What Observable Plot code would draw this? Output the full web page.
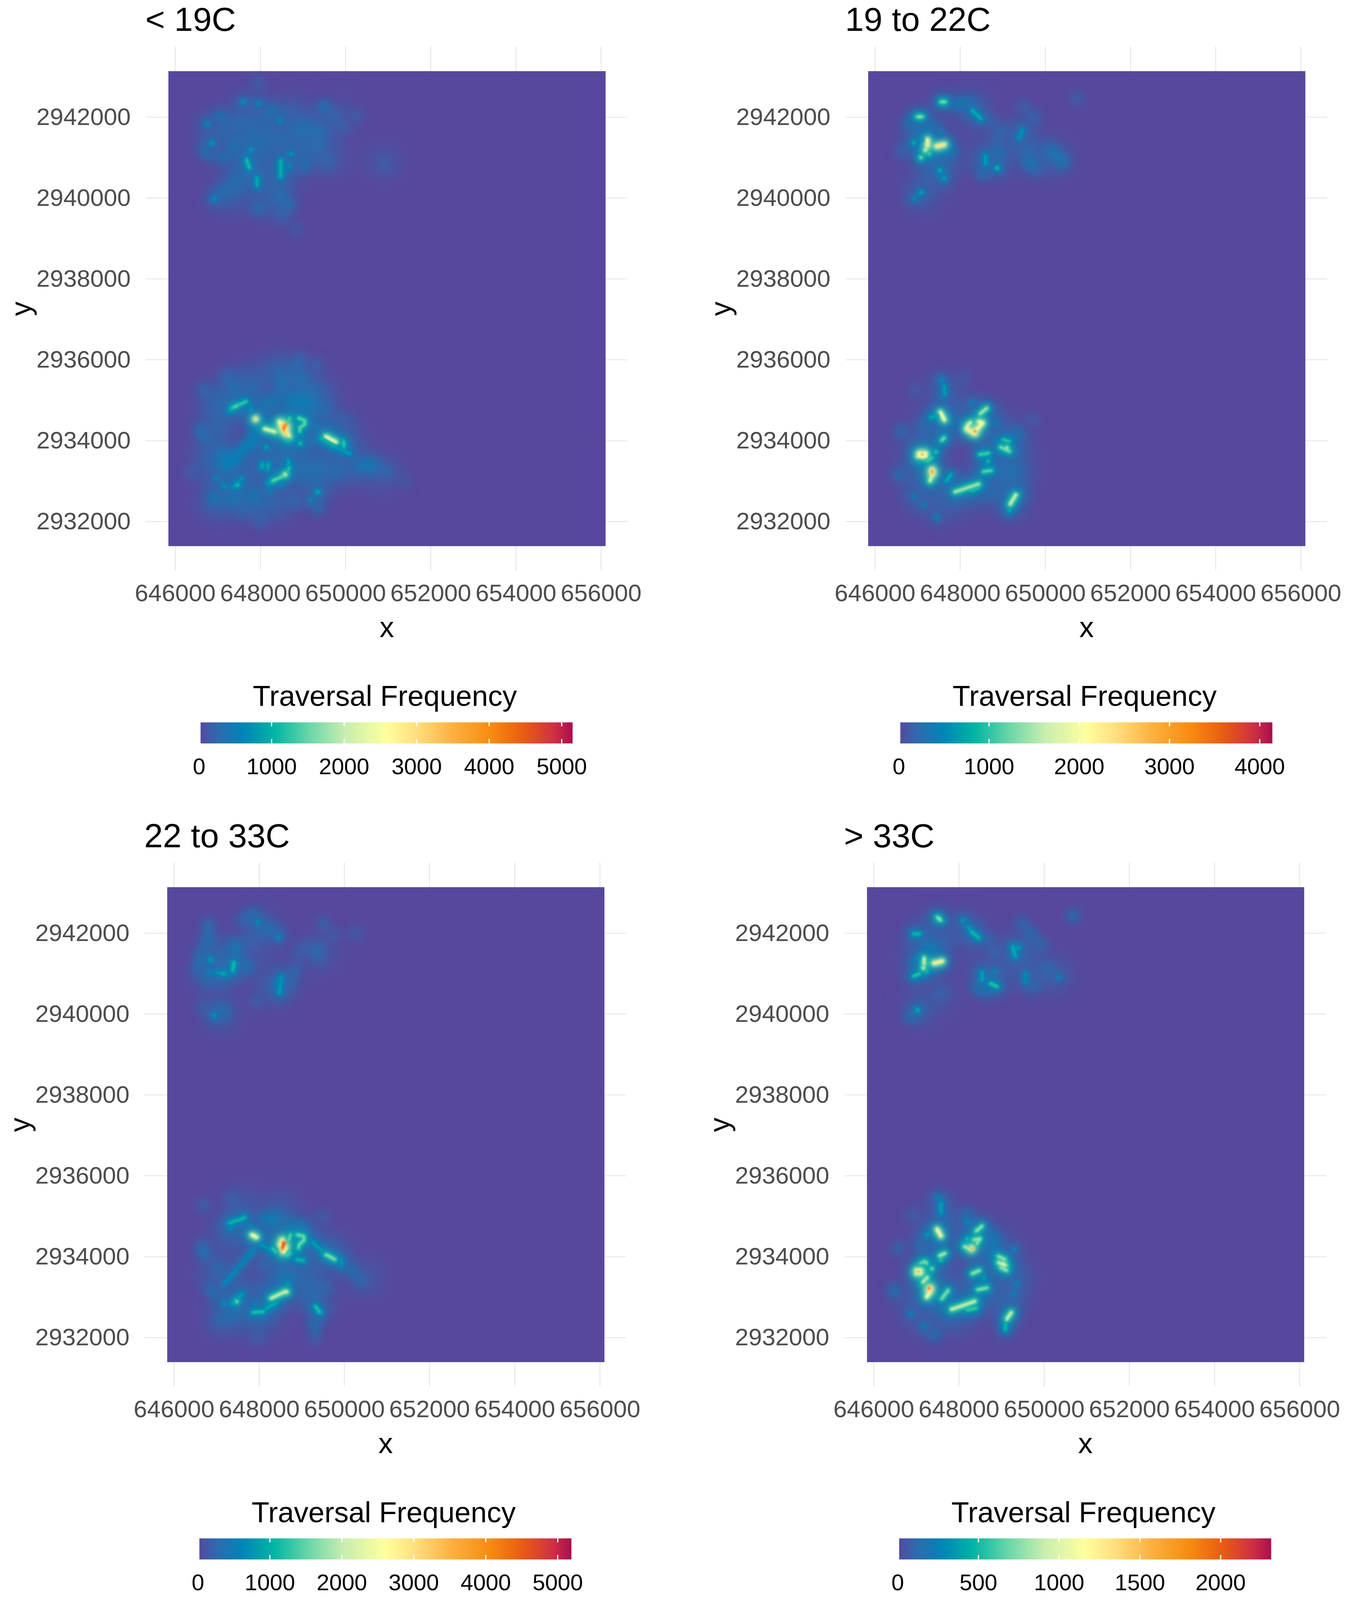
<!DOCTYPE html>
<html><head><meta charset="utf-8">
<script src="https://cdn.jsdelivr.net/npm/d3@7"></script>
<script src="https://cdn.jsdelivr.net/npm/@observablehq/plot@0.6"></script>
<style>
html,body{margin:0;padding:0;background:#fff;}
#page{position:relative;width:3445px;height:4096px;overflow:hidden;font-family:"Liberation Sans",Arial,sans-serif;}
.panel{position:absolute;width:1650px;}
.title{position:absolute;left:372px;top:0;font-size:86px;color:#000;white-space:nowrap;}
.ltitle{position:absolute;left:400px;width:1170px;text-align:center;font-size:74px;line-height:80px;color:#000;white-space:nowrap;}
.main,.bar{position:absolute;}
.main{left:0;}.bar{left:400px;}
</style></head><body><div id="page"></div>
<script>
// Data: coordinates are metres relative to these origins
const xOrigin = 640000, yOrigin = 2930000;
const xTicks = [646000,648000,650000,652000,654000,656000];
const yTicks = [2932000,2934000,2936000,2938000,2940000,2942000];
const panelTitles = ["< 19C","19 to 22C","22 to 33C","> 33C"];
const legendMax = [5150,4140,5190,2313];
const legendTicks = [[0,1000,2000,3000,4000,5000],[0,1000,2000,3000,4000],[0,1000,2000,3000,4000,5000],[0,500,1000,1500,2000]];
const rampStops = [0,.05,.12,.2,.3,.39,.5,.58,.68,.78,.87,.95,1];
const rampColors = ["#57489d","#2f6bae","#0085b8","#00b4a4","#6fd8a8","#c8eeb0","#ffff9e","#ffe080","#fdb040","#f88c10","#e85c14","#cf3044","#a80f4e"];

// Trails: [x1,y1,x2,y2,frequency] or spots [x,y,frequency]
const trailsBelow19 = [
[8448,4468,8673,4103,2700],[8500,4400,8612,4150,3200],[8571,4408,8550,4255,3900],[8550,4316,4500],[8612,4377,4100],
[7886,4535,2500],[7886,4535,3300],[8100,4291,8345,4224,2300],
[8898,4560,9042,4499,1500],[9042,4499,9042,4407,1500],[9042,4407,8919,4316,1500],[8919,4316,8927,4224,1400],
[8693,4560,8611,4407,1400],[8611,4133,8714,4072,1400],[8714,4072,8632,4011,1200],
[9533,4103,9779,3965,2400],[9951,3981,9963,3859,1300],[9410,4070,9700,3890,1000],[9656,3889,10106,3676,850],
[8939,3935,1300],[7322,4803,7669,4971,1300],[7425,4850,1600],[7280,4727,900],[8140,3843,1000],
[8038,3430,8038,3340,1000],[8181,3430,8181,3310,1000],
[8652,3524,8673,3341,900],[8673,3341,8612,3158,1200],[8612,3158,8284,3006,1500],[8580,3170,2300],[8284,3006,1300],[8284,3006,8181,2945,900],
[7465,2899,1300],[7567,3067,7362,2852,800],[7149,2884,900],[9349,2731,1100],[9186,2518,700],[9349,2335,500],
[7895,4103,7116,3280,600],[7895,4377,7895,3889,600],[7076,3676,500],[6973,3067,700],
[6912,2610,500],[7362,2610,500],[7915,2670,500],[8222,2762,700],[8509,2945,700],
[10352,3402,10639,3402,500],[10967,3250,300],[6584,4255,400],[6707,4072,350],
[6666,5260,300],[7198,5596,300],[7362,5321,350],[7895,5352,300],[8509,5596,350],[8960,6053,250],[8837,5870,350],[9328,5870,250],[8966,5535,400],[8509,5352,450],[9246,5260,300],[9492,4834,300],
[8100,4925,500],[8345,5017,550],[8673,4986,9082,4925,550],[7772,4773,900],[9328,4316,700],[9165,4072,500],
[9000,3300,350],[9400,3400,350],[9800,3200,350],[8800,2500,350],[7600,2300,250],[8000,2000,250],[6400,3200,200],[10000,4500,200],[11400,3000,150],
[7677,10958,7738,10745,1150],[8476,10927,8476,10531,1050],[8721,11095,900],[8680,10775,800],[7923,10501,7923,10318,1000],
[7779,11202,900],[6858,11354,900],[6919,9983,800],[7062,10105,600],[7595,12375,800],[7955,12329,800],[8455,11917,800],[8271,12131,600],
[6755,11841,750],[7042,12009,500],[9479,12268,500],[9356,11659,350],[9356,11600,350],[9008,11719,400],[7411,11262,500],[7144,11003,500],[6817,11049,400],[6653,11202,400],[7902,11384,500],
[7943,9739,450],[8680,9830,400],[8480,10040,350],[7411,10348,350],[9029,10805,450],
[9377,11293,300],[9582,10897,250],[9745,12024,250],[10257,12055,200],[10933,10836,200],[8250,11598,300],[7943,12847,250],[8517,9556,250],[8844,9221,200],[9950,11750,200]
];
const hazeBelow19 = [[7000,5000,350],[7600,5400,350],[8400,5700,350],[9000,5400,300],[9400,5000,300],[8000,4700,400],[8900,4800,450],[7000,4300,300],[6800,3500,300],[7400,3400,350],[7300,2900,400],[7000,2500,350],[7800,2500,400],[8400,2500,300],[8200,3500,450],[9000,3300,400],[9300,3000,350],[9700,3400,300],[10300,3400,300],[10900,3200,200],[9900,4200,300],[9200,4300,450],[8600,3900,450],
[7000,11600,300],[7500,11900,300],[8000,12000,300],[7800,11200,400],[8500,11300,350],[8700,12000,300],[9300,11700,300],[9000,11100,300],[9600,11000,200],[7600,10600,400],[8400,10400,350],[8300,9900,250],[7300,10100,300],[10900,10900,150],[9800,12000,150]];
const trails19to22 = [
[7538,4697,7630,4514,2100],[7309,4575,800],[7309,4575,7480,4620,800],
[8150,4286,8348,4179,2300],[8348,4231,3400],[8180,4377,8241,4453,1800],[8440,4468,8532,4438,2200],[8532,4438,8394,4286,2100],[8180,4377,8150,4286,1900],
[8471,4666,8624,4804,1500],[7630,4072,7569,4011,1300],
[7018,3691,7202,3691,2000],[7018,3615,7202,3615,2100],[7110,3661,3200],[7431,3722,1100],[7339,3585,7232,3493,1100],[7049,3478,900],
[7339,3280,7354,3189,2600],[7345,3230,3300],[7354,3189,7293,3006,1800],
[7874,2732,8440,2930,1500],[8272,2762,8440,2850,950],[7676,3006,7783,3158,800],
[8455,3661,8669,3691,1100],[8654,3493,1000],[8547,3234,8731,3265,1200],[8624,3052,500],
[8945,3844,9159,3737,1300],[9006,4027,9159,3981,1000],[9100,3830,1600],
[9174,2427,9311,2671,1700],[9159,2275,900],[9342,2793,500],
[7553,5504,600],[7630,5352,7630,5139,700],[8272,4925,500],[8853,4438,500],[9342,4164,400],[8822,4042,500],
[6605,4225,350],[6559,3158,350],[6926,2625,500],[7140,2427,500],[7461,2107,500],
[8088,5565,150],[6926,5230,150],[8700,2701,300],[9709,4529,150],[9067,3219,300],[9311,3189,300],[7170,4380,300],[7720,4470,300],
[7599,12375,1400],[7540,12375,7660,12375,1200],[7049,12009,1500],[6980,12009,7120,12009,1200],[7232,11445,7232,11293,2300],[7447,11278,7630,11323,2400],[7187,11186,1900],[7278,11095,1200],
[7080,11003,1400],[6911,11369,900],[7125,11445,700],[6804,11841,400],[7278,11689,400],[7416,11765,400],[7523,11598,500],[7034,11537,400],
[7523,10683,900],[7615,10485,800],[7080,10135,800],[6927,9983,600],[7905,12329,8242,12329,450],[8287,12161,8486,11963,800],
[9465,11689,9373,11476,600],[8593,11049,8593,10836,700],[8869,10745,1000],[8869,11095,450],[8517,10623,400],
[9618,10882,450],[9771,10714,250],[9557,11202,280],[9740,11994,280],[9495,12268,200],[10749,12466,200],[10107,11202,10443,10866,350],
[8976,11674,250],[8853,11476,200],[8700,11902,200],[6621,11171,250],[7752,11186,450]
];
const haze19to22 = [[7300,4300,200],[8000,4600,200],[8700,4400,200],[9200,4000,250],[9300,3300,250],[8800,3200,200],[7000,3300,200],[7100,2700,200],[7700,2500,200],[8300,2800,250],[9200,2600,250],[7600,5200,150],[7100,3900,200],
[7100,11500,250],[7400,10700,200],[7100,10100,150],[8300,12200,180],[8700,11000,250],[9400,11500,220],[9700,11000,150],[10200,11000,180],[7600,11000,250]];
const trails22to33 = [
[8538,4404,8584,4115,2700],[8500,4300,8620,4200,2700],[8553,4359,8553,4176,3900],[8584,4343,8553,4221,4800],
[7887,4511,2800],[7824,4541,7942,4480,2500],
[8890,4541,9043,4511,1600],[9043,4511,9058,4420,1600],[9058,4420,8936,4298,1600],[8936,4298,8920,4206,1500],
[8737,4541,8676,4389,1500],[8645,4023,8721,4100,1400],[8309,4206,8400,4115,1300],[8033,4298,8339,4145,800],
[9562,4054,9776,3932,1700],[9257,4359,9562,4054,900],[9929,3932,9929,3780,800],[10143,3673,600],[8890,3932,9043,3902,1100],
[7300,4831,7666,4968,1100],[7330,4694,800],[7789,4755,700],[8339,5029,8339,4785,500],[8095,4938,550],[8706,4724,9012,4755,500],
[7880,4176,7177,3323,650],[7085,3719,400],[6719,4054,500],[6642,4267,350],
[8676,3323,1000],[8706,3475,600],[8615,3140,8278,2972,2100],[8645,3129,2400],
[8232,2774,1000],[8156,2713,8400,2866,1000],[7850,2622,8095,2637,1200],[7911,2835,700],
[7468,2896,1900],[7361,2835,7605,3079,900],[7162,2850,800],[6994,3079,500],[6841,3201,350],
[9318,2774,9425,2622,1200],[9318,2317,600],[9200,3100,300],[9550,3250,300],[10388,3384,350],[8550,3500,500],[7376,2591,450],[7085,2439,350],[8100,3800,300],
[7361,5425,250],[6688,5273,250],[7972,1982,200],[8600,5000,300],[9500,5000,200],[9300,2000,250],
[7407,11275,7376,11077,1150],[7162,11000,1100],[6994,11030,7238,10985,800],[6856,11336,1000],[6826,11031,700],[6810,10910,500],[6673,11457,450],[6673,11230,500],
[6764,11777,400],[6826,12006,400],[6795,12250,300],[7422,11732,7468,11518,500],[7728,11168,550],[7621,12356,350],[7865,12463,450],[7957,12280,800],
[8064,12158,8400,12036,450],[8462,11899,750],[7789,11823,250],[8523,10939,8477,10543,800],[8477,10543,1000],[8400,10772,700],[8828,11061,400],[8722,10741,350],
[9364,11640,300],[9364,11457,350],[9501,12250,250],[9761,11975,200],[10266,12006,220],[9012,11655,220],[8890,11430,180],[7942,10330,220],
[6948,9964,900],[7177,10010,500],[7085,10117,400],[6657,10178,220],[6535,11090,250]
];
const haze22to33 = [[7300,4600,300],[8000,4500,350],[9000,4500,350],[9700,4100,300],[8500,3800,300],[9100,3500,300],[9300,3000,300],[8300,3100,350],[7500,3100,300],[7200,2500,300],[8000,2500,350],[7000,3600,250],[7600,5300,180],[8500,5200,200],[10500,3500,180],
[7000,11500,300],[6900,11000,300],[7400,11200,250],[8000,12100,250],[8400,10700,300],[9400,11500,180],[7100,10000,200],[8000,11700,150]];
const trailsAbove33 = [
[7486,4679,7578,4511,1200],[7257,4541,450],[8129,4252,8281,4176,850],[8297,4206,1700],[8343,4420,8496,4450,800],[8419,4328,800],[8496,4450,8419,4328,800],[8190,4435,600],
[8404,4633,8541,4755,800],[8190,4861,350],[8190,5029,250],[7547,4023,7670,4084,850],[7578,3917,600],
[7043,3627,1700],[6990,3670,7120,3670,1000],[6990,3590,7120,3590,1000],[7089,3841,7242,3871,700],[7181,3900,7242,3825,700],[7364,3704,800],[7257,3490,7150,3368,900],
[7303,3216,2050],[7333,3216,7303,3110,1300],[7303,3110,7242,3003,1150],[7746,3170,7593,2957,750],
[7823,2698,8373,2896,950],[8190,2683,8404,2728,600],[8312,3582,8480,3658,800],[8587,3460,450],[8434,3185,8664,3231,750],[8587,3033,300],
[8924,4008,9076,3932,800],[8924,3856,9107,3780,900],[9040,3820,1150],[8985,3734,9122,3658,800],[9168,3764,500],
[9122,2454,9229,2622,950],[9092,2332,9092,2195,500],[9291,3079,300],[9336,3323,300],
[8801,4511,250],[8816,4359,250],[9291,4176,300],[8786,4054,250],[7502,5471,300],[7580,5334,7580,5090,400],[7104,4267,200],[6569,4206,160],[6905,5030,100],[7700,4861,150],
[6477,3155,250],[6875,2591,280],[7180,2287,280],[7410,2073,250],[7685,2698,250],
[7532,12356,850],[7486,12400,7578,12310,700],[6935,11981,7073,11981,500],[7180,11381,7180,11244,950],[7409,11259,7608,11305,1250],[7165,11137,1000],[7241,11061,550],
[6935,10940,7073,11000,550],[7073,11381,400],[6966,11275,300],[8097,12310,400],[8235,12128,450],[8296,12036,8464,11884,500],
[9260,11671,9321,11427,450],[9397,11640,450],[8541,11031,8541,10833,400],[8740,10757,8893,10680,550],[8831,11061,300],[8449,10665,250],[8620,10570,200],
[9565,11000,9565,10787,300],[9733,10696,200],[10360,10909,280],[10100,11092,180],[9688,11975,220],[9474,12250,160],[10681,12432,220],[9932,11701,170],
[7027,10101,500],[6874,9934,220],[7211,11640,250],[7333,11793,200],[7486,11564,200],[7715,11808,130],[7578,10513,120],[8709,11853,130],[8816,11518,140]
];
const hazeAbove33 = [[7300,4400,100],[8300,4500,120],[8900,4200,120],[9300,3500,130],[9100,2900,120],[8400,3100,110],[7600,3400,100],[7000,3000,100],[7200,2500,100],[7900,2500,110],[7600,5100,80],
[7100,11400,130],[7300,12000,80],[8200,12000,100],[8700,10900,120],[9400,11500,110],[9700,11000,80],[10200,11000,90],[7100,10100,70],[7500,10500,60]];
const panelTrails = [trailsBelow19, trails19to22, trails22to33, trailsAbove33];
const panelHaze = [hazeBelow19, haze19to22, haze22to33, hazeAbove33];

// Layout: the photographed window is 4096 tall, so every vertical distance is scaled to fit
const V = 4096/4328;
const panelOffsets = [[0,0],[1791,0],[-3,2208*V],[1788,2208*V]];
const rasterX = [645844,656110], rasterY = [2931388,2943133];
const frameX = [645312,656624], frameY = [2930784,2943737];
const font = {fontFamily:'"Liberation Sans",Arial,sans-serif'};
const blurLayers = [{k:.22,w:44,b:15},{k:.5,w:24,b:8},{k:.72,w:13,b:4.5},{k:1,w:6,b:2.6}];
const softShare = .12;
const ramp = d3.scaleLinear(rampStops, rampColors);
const toRow = d => d.length===3
    ? {x1:d[0]+xOrigin,y1:d[1]+yOrigin,x2:d[0]+xOrigin,y2:d[1]+yOrigin,v:d[2]}
    : {x1:d[0]+xOrigin,y1:d[1]+yOrigin,x2:d[2]+xOrigin,y2:d[3]+yOrigin,v:d[4]};

const page = document.getElementById("page");
panelTitles.forEach((title,i) => {
  const max = legendMax[i];
  const color = {type:"linear",domain:[0,max],interpolate:t=>ramp(t),clamp:true};
  const rows = panelTrails[i].map(toRow).sort((a,b)=>a.v-b.v);
  const soft = rows.filter(d=>d.v/max<softShare), firm = rows.filter(d=>d.v/max>=softShare);
  const haze = panelHaze[i].map(toRow);
  const linkOpts = {x1:"x1",y1:"y1",x2:"x2",y2:"y2",strokeLinecap:"round",strokeOpacity:1};
  const main = Plot.plot({
    width:1650,height:1640*V,marginLeft:373,marginRight:44,marginTop:26*V,marginBottom:197*V,
    style:{...font,background:"transparent"},
    x:{domain:frameX,axis:null},y:{domain:frameY,axis:null},color,
    marks:[
      Plot.gridX(xTicks,{stroke:"#ebebeb",strokeOpacity:1,strokeWidth:3}),
      Plot.gridY(yTicks,{stroke:"#ebebeb",strokeOpacity:1,strokeWidth:3}),
      Plot.axisX(xTicks,{anchor:"bottom",tickSize:0,tickPadding:34,fontSize:62,fill:"#4d4d4d",tickFormat:"d",label:null}),
      Plot.axisY(yTicks,{anchor:"left",tickSize:0,tickPadding:39,fontSize:62,fill:"#4d4d4d",tickFormat:"d",label:null}),
      Plot.text(["x"],{frameAnchor:"bottom",dy:170,fontSize:74,fill:"#000",textAnchor:"middle"}),
      Plot.text(["y"],{frameAnchor:"left",dx:-318,rotate:-90,fontSize:74,fill:"#000",textAnchor:"middle"}),
      Plot.rect([{v:0}],{x1:()=>rasterX[0],x2:()=>rasterX[1],y1:()=>rasterY[0],y2:()=>rasterY[1],fill:"v",inset:0}),
      Plot.link(haze,{...linkOpts,stroke:"v",strokeWidth:76,imageFilter:"blur(28px)"}),
      Plot.link(soft,{...linkOpts,stroke:"v",strokeWidth:30,imageFilter:"blur(12px)"}),
      ...blurLayers.map(l => Plot.link(firm,{...linkOpts,stroke:d=>d.v*l.k,strokeWidth:l.w,imageFilter:`blur(${l.b}px)`}))
    ]
  });
  main.classList.add("main");
  main.style.top = (100*V)+"px";
  const bar = Plot.plot({
    width:1150,height:190*V,marginLeft:109,marginRight:85,marginTop:23*V,marginBottom:110*V,
    style:{...font,background:"transparent"},
    x:{domain:[0,max],axis:null},y:{domain:[0,1],axis:null},color,
    marks:[
      Plot.raster({x1:max*.004,x2:max,y1:0,y2:1,width:256,height:1,fill:(x)=>x,imageRendering:"auto"}),
      Plot.ruleX(legendTicks[i].slice(1),{y1:0,y2:.2,stroke:"#fff",strokeWidth:3}),
      Plot.ruleX(legendTicks[i].slice(1),{y1:.8,y2:1,stroke:"#fff",strokeWidth:3}),
      Plot.axisX(legendTicks[i],{anchor:"bottom",tickSize:0,tickPadding:38,fontSize:58,fill:"#000",tickFormat:"d",label:null})
    ]
  });
  bar.classList.add("bar");
  bar.style.top = (1930*V)+"px";
  const p = document.createElement("div");
  p.className="panel";
  p.style.left=panelOffsets[i][0]+"px"; p.style.top=panelOffsets[i][1]+"px";
  const t=document.createElement("div"); t.className="title"; t.textContent=title;
  const l=document.createElement("div"); l.className="ltitle"; l.textContent="Traversal Frequency";
  l.style.top=(1883*V-40)+"px";
  p.append(t,main,l,bar);
  page.append(p);
});
</script></body></html>
